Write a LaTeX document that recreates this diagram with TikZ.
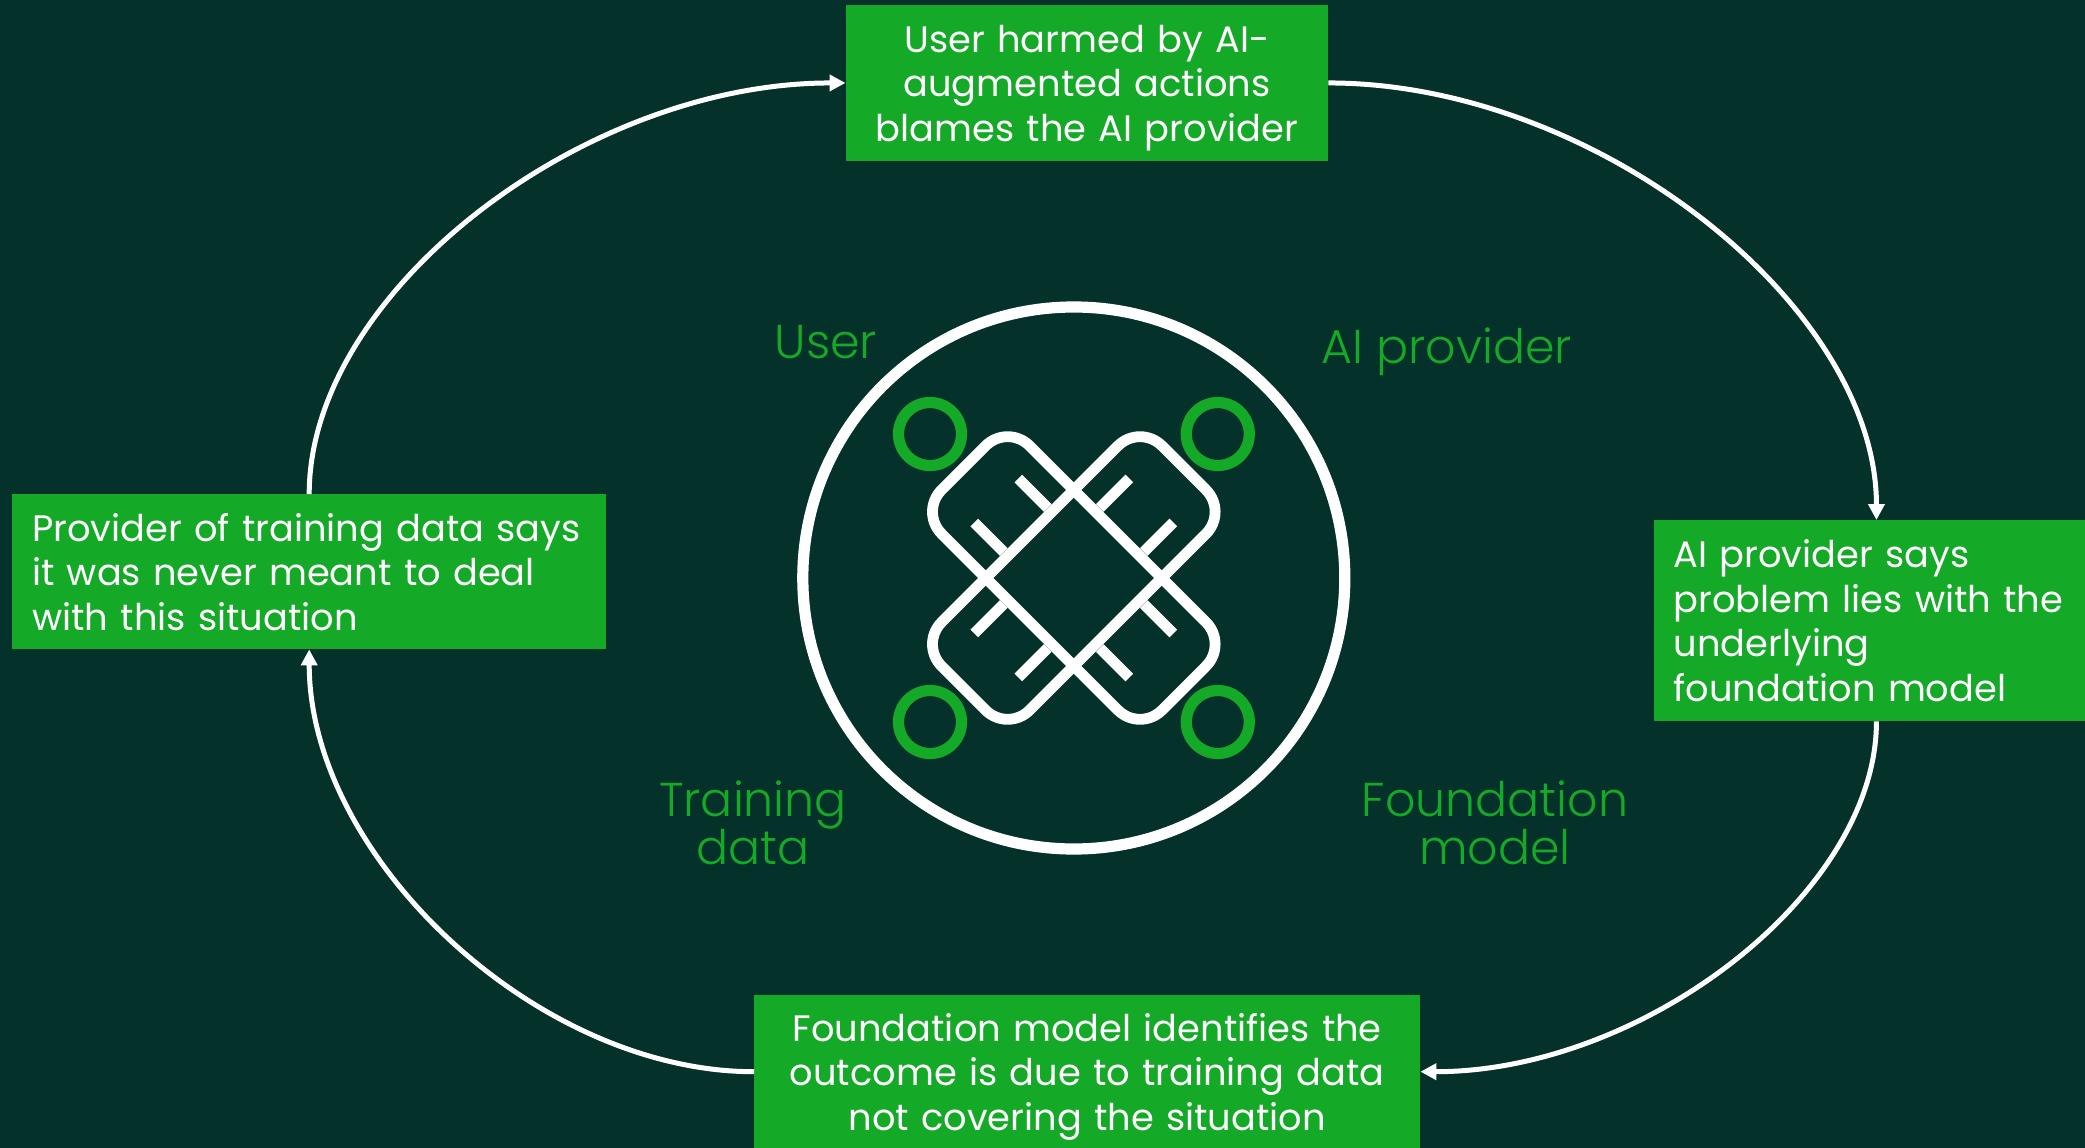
\documentclass[tikz,border=0pt]{standalone}
\usepackage{fontspec}
\usetikzlibrary{arrows.meta}
\setmainfont{Poppins}
\newfontfamily\lightf{Poppins Light}
\definecolor{bgc}{HTML}{04312A}
\definecolor{grn}{HTML}{15A928}
\tikzset{
  x=1pt,y=-1pt,
  box/.style={fill=grn,text=white,inner sep=0pt,anchor=north west,font=\fontsize{36.8}{44.5}\selectfont},
  lbl/.style={text=grn,align=center,inner sep=0pt,font=\lightf\fontsize{47.5}{48}\selectfont},
  conn/.style={draw=white,line width=5pt,-{Triangle[width=16pt,length=16pt]}},
  ring/.style={draw=white,line width=11.2pt},
  dot/.style={draw=grn,line width=11.2pt},
  band/.style={draw=white,line width=10.8pt,rounded corners=31pt},
  tick/.style={draw=white,line width=10.8pt}
}
\begin{document}
\begin{tikzpicture}
\useasboundingbox (0,0) rectangle (2085,1148);
\fill[bgc] (0,0) rectangle (2085,1148);
\node[box,minimum width=482.5pt,minimum height=155.5pt,align=center,text width=482.5pt] (topb) at (845.5,5) {User harmed by AI-\\augmented actions\\\smash{blames the AI provider}};
\node[box,minimum width=431.5pt,minimum height=201pt,align=left,text width=391.5pt,inner xsep=20pt] (rightb) at (1653.5,520) {AI provider says\\problem lies with the\\underlying\\foundation model};
\node[box,minimum width=666pt,minimum height=153pt,align=center,text width=666pt] (botb) at (754,995) {Foundation model identifies the\\outcome is due to training data\\\smash{not covering the situation}};
\node[box,minimum width=594pt,minimum height=155pt,align=left,text width=554pt,inner xsep=20pt] (leftb) at (12,494) {Provider of training data says\\it was never meant to deal\\with this situation};
\draw[conn] (topb.east) .. controls +(268,0) and +(0,-214) .. ([xshift=7pt]rightb.north);
\draw[conn] ([xshift=7pt]rightb.south) .. controls +(0,172) and +(223,0) .. (botb.east);
\draw[conn] (botb.west) .. controls +(-218,0) and +(0,207) .. (leftb.south);
\draw[conn] (leftb.north) .. controls +(0,-201) and +(-263,0) .. (topb.west);
\node[lbl] (uL) at (826,342) {User};
\node[lbl] (aL) at (1447,352) {AI provider};
\node[lbl] (tL) at (753,823) {Training\\data};
\node[lbl] (fL) at (1495,823) {Foundation\\model};
\draw[ring] (1073.8,578) circle (271);
\foreach \px/\py/\nm in {930/434/a,1217.8/434/b,930/722/c,1217.8/722/d}
  \draw[dot] (\px,\py) circle (31.5);
\begin{scope}[shift={(1073.8,578)}]
  \draw[band,rotate=45] (-155.8,-62.2) rectangle (155.8,62.2);
  \draw[band,rotate=-45] (-155.8,-62.2) rectangle (155.8,62.2);
  \foreach \a in {0,90,180,270}{
    \begin{scope}[rotate=\a]
      \draw[tick] (-55.5,-99.5) -- (-26,-70);
      \draw[tick] (-99.5,-55.5) -- (-70,-26);
    \end{scope}
  }
\end{scope}
\end{tikzpicture}
\end{document}
